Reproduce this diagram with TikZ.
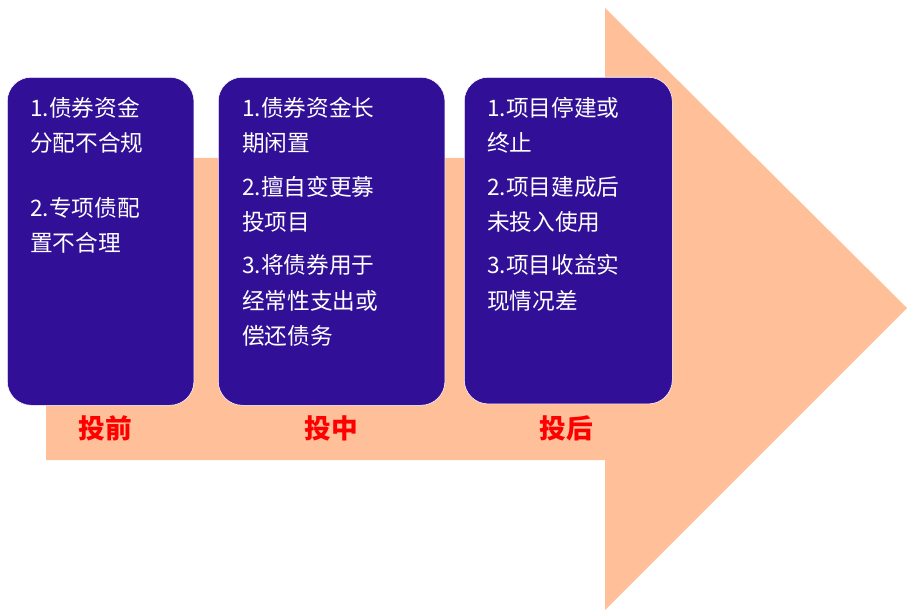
\documentclass[tikz,border=0pt]{standalone}
\usepackage{fontspec}
\newfontfamily\cjk{Noto Sans CJK SC}
\usetikzlibrary{positioning}
\definecolor{arrowfill}{RGB}{255,192,153}
\definecolor{boxfill}{RGB}{49,15,150}
\tikzset{
  phasebox/.style={fill=boxfill,draw=white,rounded corners=18pt,anchor=north west},
  boxtext/.style={anchor=north west,text=white,align=left,inner sep=0pt,
    font=\cjk\fontsize{17}{26.5}\selectfont},
  phaselabel/.style={text=red,font=\cjk\bfseries\fontsize{20}{24}\selectfont}
}
\begin{document}
\begin{tikzpicture}[x=0.75pt,y=-0.75pt]
    \useasboundingbox (0,0) rectangle (913,616);
    % big arrow
    \fill[arrowfill] (46,158) -- (605,158) -- (605,8) -- (907,308) -- (605,610)
      -- (605,460) -- (46,460) -- cycle;
    % boxes
    \node[phasebox,minimum width=140pt,minimum height=246pt] (pre) at (7,77) {};
    \node[phasebox,minimum width=170pt,minimum height=246pt] (mid) at (218,77) {};
    \node[phasebox,minimum width=156pt,minimum height=245pt] (post) at (464,77) {};
    % texts
    \node[boxtext] (pretext) at (30,97) {1.债券资金\\分配不合规\\[22pt]2.专项债配\\置不合理};
    \node[boxtext] (midtext) at (242,97) {1.债券资金长\\期闲置\\[6pt]2.擅自变更募\\投项目\\[6pt]3.将债券用于\\经常性支出或\\偿还债务};
    \node[boxtext] (posttext) at (487,97) {1.项目停建或\\终止\\[6pt]2.项目建成后\\未投入使用\\[6pt]3.项目收益实\\现情况差};
    % phase labels
    \node[phaselabel] (prelabel) at (105,428) {投前};
    \node[phaselabel] (midlabel) at (331,428) {投中};
    \node[phaselabel] (postlabel) at (566,428) {投后};
\end{tikzpicture}
\end{document}
